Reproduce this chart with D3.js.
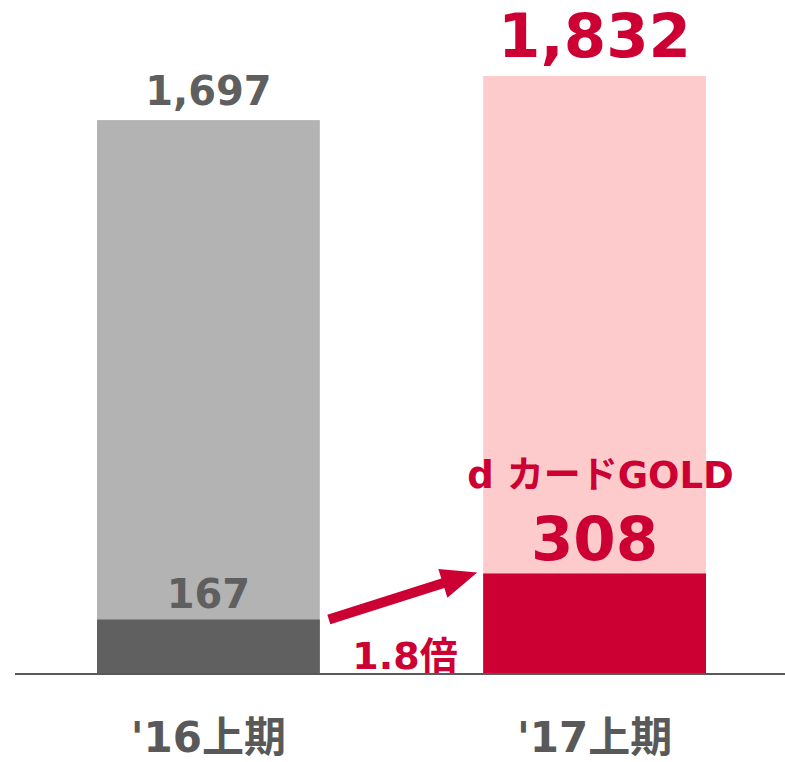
<!DOCTYPE html>
<html>
<head>
<meta charset="utf-8">
<script src="https://cdn.jsdelivr.net/npm/d3@7.9.0/dist/d3.min.js"></script>
<style>
  body { margin: 0; background: #fff; }
  svg text { font-family: "DejaVu Sans", "Noto Sans CJK JP", sans-serif; font-weight: bold; }
</style>
</head>
<body>
<svg id="chart" width="785" height="762"></svg>
<script>
const categories = ["'16上期", "'17上期"];
const totals = [1697, 1832];
const goldMembers = [167, 308];
const goldLabel = "d カードGOLD";

const totalColors = ["#b3b3b3", "#fdcbcb"];
const partColors = ["#606060", "#cc0033"];
const labelColors = ["#5f5f5f", "#cc0033"];

const svg = d3.select("#chart");
const baseline = 674;

const x = d3.scaleBand()
  .domain(categories)
  .range([97, 706])
  .paddingInner(0.423)
  .paddingOuter(0);

const y = d3.scaleLinear()
  .domain([0, 2065])
  .range([baseline, 0]);

const bars = svg.append("g");

// total bars
bars.selectAll(".total")
  .data(categories)
  .join("rect")
  .attr("class", "total")
  .attr("x", (d) => x(d))
  .attr("width", x.bandwidth())
  .attr("y", (d, i) => y(totals[i]))
  .attr("height", (d, i) => baseline - y(totals[i]))
  .attr("fill", (d, i) => totalColors[i]);

// gold member bars
bars.selectAll(".part")
  .data(categories)
  .join("rect")
  .attr("class", "part")
  .attr("x", (d) => x(d))
  .attr("width", x.bandwidth())
  .attr("y", (d, i) => y(goldMembers[i]))
  .attr("height", (d, i) => baseline - y(goldMembers[i]))
  .attr("fill", (d, i) => partColors[i]);

// baseline axis
const xAxis = d3.axisBottom(x).tickSize(0).tickPadding(48);
const axisG = svg.append("g")
  .attr("transform", `translate(0,${baseline})`)
  .call(xAxis);
axisG.select(".domain")
  .attr("d", `M15,0H785`)
  .attr("stroke", "#595959")
  .attr("stroke-width", 2);
axisG.selectAll(".tick text")
  .attr("fill", "#595959")
  .attr("font-size", 42)
  .attr("dy", "0.72em");

// total labels
svg.selectAll(".total-label")
  .data(categories)
  .join("text")
  .attr("class", "total-label")
  .attr("x", (d) => x(d) + x.bandwidth() / 2)
  .attr("y", (d, i) => y(totals[i]) - (i === 0 ? 15 : 19))
  .attr("text-anchor", "middle")
  .attr("font-size", (d, i) => (i === 0 ? 40 : 61))
  .attr("fill", (d, i) => labelColors[i])
  .text((d, i) => d3.format(",")(totals[i]));

// gold labels
svg.selectAll(".part-label")
  .data(categories)
  .join("text")
  .attr("class", "part-label")
  .attr("x", (d) => x(d) + x.bandwidth() / 2)
  .attr("y", (d, i) => y(goldMembers[i]) - (i === 0 ? 11 : 13))
  .attr("text-anchor", "middle")
  .attr("font-size", (d, i) => (i === 0 ? 40 : 61))
  .attr("fill", (d, i) => labelColors[i])
  .text((d, i) => goldMembers[i]);

svg.append("text")
  .attr("x", x(categories[1]) + x.bandwidth() / 2 + 6)
  .attr("y", y(goldMembers[1]) - 85)
  .attr("text-anchor", "middle")
  .attr("font-size", 37)
  .attr("fill", "#cc0033")
  .attr("font-family", "Roboto, 'Noto Sans CJK JP', sans-serif")
  .text(goldLabel);

// growth arrow
const x0 = x(categories[0]) + x.bandwidth() + 9;
const x1 = x(categories[1]) - 6;
const y0 = y(goldMembers[0]);
const y1 = y(goldMembers[1]) - 1;
const ang = Math.atan2(y1 - y0, x1 - x0);
const headLen = 36, headW = 15, shaft = 5;
const len = Math.hypot(x1 - x0, y1 - y0);
const pts = [
  [0, -shaft], [len - headLen, -shaft], [len - headLen, -headW],
  [len, 0], [len - headLen, headW], [len - headLen, shaft], [0, shaft]
].map(([u, v]) => [
  x0 + u * Math.cos(ang) - v * Math.sin(ang),
  y0 + u * Math.sin(ang) + v * Math.cos(ang)
]);
svg.append("polygon")
  .attr("points", pts.map((p) => p.join(",")).join(" "))
  .attr("fill", "#cc0033");

svg.append("text")
  .attr("x", (x0 + x1) / 2 + 2)
  .attr("y", baseline - 5)
  .attr("text-anchor", "middle")
  .attr("font-size", 38)
  .attr("fill", "#cc0033")
  .text(`${(goldMembers[1] / goldMembers[0]).toFixed(1)}倍`);
</script>
</body>
</html>
